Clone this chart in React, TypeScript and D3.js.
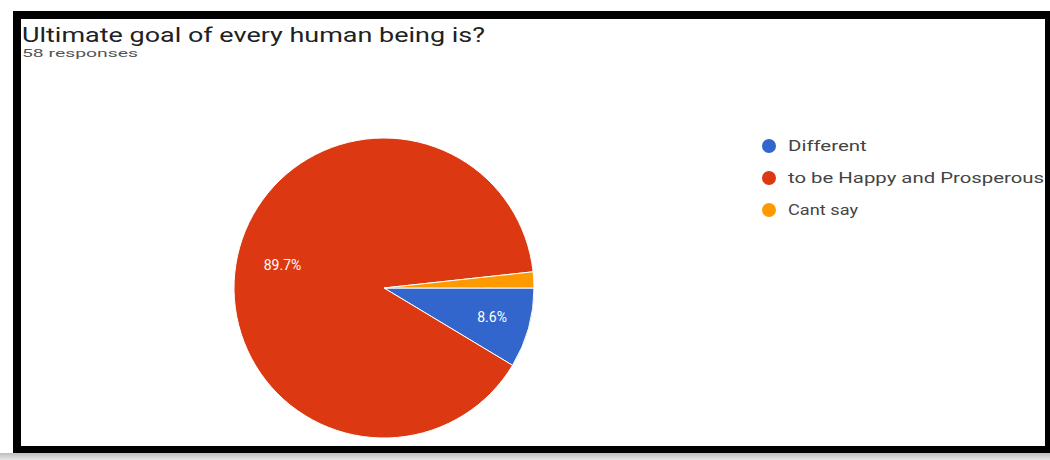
import React from "react";
import * as d3 from "d3";

const categories = ["Different", "to be Happy and Prosperous", "Cant say"];
const responses = [5, 52, 1];
const colors = ["#3366cc", "#dc3912", "#ff9900"];
const title = "Ultimate goal of every human being is?";
const subtitle = "58 responses";

const W = 1050;
const H = 460;

export default function App() {
  const cx = 384;
  const cy = 288;
  const r = 150;
  const total = d3.sum(responses);
  const data = categories.map((c, i) => ({ name: c, value: responses[i], color: colors[i] }));
  const pie = d3
    .pie<any>()
    .value((d) => d.value)
    .sort(null)
    .startAngle(Math.PI / 2)
    .endAngle(Math.PI / 2 + 2 * Math.PI);
  const arcs = pie(data);
  const arc = d3.arc<any>().innerRadius(0).outerRadius(r);
  const labelArc = d3.arc<any>().innerRadius(r * 0.72).outerRadius(r * 0.72);
  const legendY = d3.scalePoint<number>().domain(d3.range(categories.length)).range([146, 210]);
  // horizontal stretch factor of the screenshot text
  const stretch = 1.25;

  return (
    <svg
      width={W}
      height={H}
      style={{ position: "absolute", left: 0, top: 0, display: "block" }}
      fontFamily="Roboto, Arial, sans-serif"
    >
      <defs>
        <linearGradient id="bot" x1="0" y1="0" x2="0" y2="1">
          <stop offset="0" stopColor="#bdbdbd" />
          <stop offset="1" stopColor="#e6e6e6" />
        </linearGradient>
      </defs>
      <rect x={0} y={0} width={W} height={H} fill="#ffffff" />
      <rect x={0} y={453} width={W} height={7} fill="url(#bot)" />
      {/* black frame */}
      <rect x={13} y={11} width={W - 13} height={442} fill="#000" />
      <rect x={21} y={19} width={1024} height={427} fill="#fff" />

      <text
        x={22}
        y={42}
        fontSize={20}
        fill="#202124"
        textLength={463}
        lengthAdjust="spacingAndGlyphs"
      >
        {title}
      </text>
      <text
        x={22}
        y={57}
        fontSize={11}
        fill="#555"
        textLength={116}
        lengthAdjust="spacingAndGlyphs"
      >
        {subtitle}
      </text>

      <g transform={`translate(${cx},${cy})`}>
        {arcs.map((a, i) => (
          <path key={i} d={arc(a) as string} fill={a.data.color} stroke="#fff" strokeWidth={1} />
        ))}
        {arcs.map((a, i) => {
          const pct = (a.data.value / total) * 100;
          if (pct < 5) return null;
          const [lx, ly] = labelArc.centroid(a);
          const label = pct.toFixed(1) + "%";
          return (
            <text
              key={"l" + i}
              x={lx + 4}
              y={ly}
              dy="0.35em"
              textAnchor="middle"
              fontSize={14}
              fill="#fff"
            >
              {label}
            </text>
          );
        })}
      </g>

      <g>
        {data.map((d, i) => (
          <g key={i} transform={`translate(769,${legendY(i)})`}>
            <circle r={7} fill={d.color} />
            <text
              x={19}
              y={0}
              dy="0.35em"
              fontSize={14}
              fill="#444"
              textLength={i === 1 ? 256 : d.name.length * 7 * stretch}
              lengthAdjust="spacingAndGlyphs"
            >
              {d.name}
            </text>
          </g>
        ))}
      </g>
    </svg>
  );
}
